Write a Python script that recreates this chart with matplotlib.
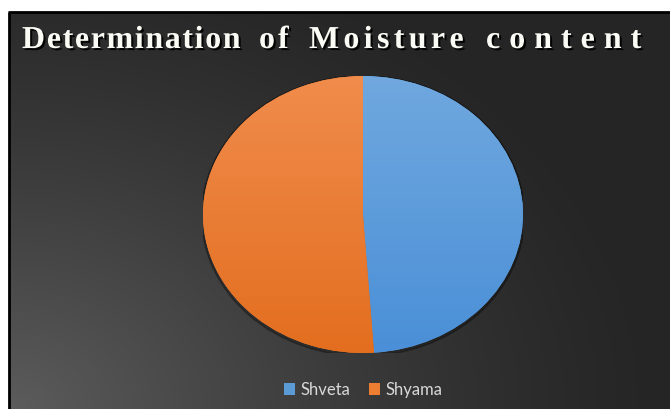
import numpy as np
import matplotlib
matplotlib.use("Agg")
import matplotlib.pyplot as plt
from matplotlib import patheffects as pe
from matplotlib.patches import Patch, Ellipse

# Data
labels = ["Shveta", "Shyama"]
moisture = [48.9, 51.1]
colors = ["#5B9BD5", "#ED7D31"]
top_colors = ["#70A8DF", "#F08C4C"]
bottom_colors = ["#4A8FD7", "#E36E1F"]
title_words = ["Determination", "of", "Moisture", "content"]

W, H = 670, 409
fig = plt.figure(figsize=(W / 100, H / 100), dpi=100)
fig.patch.set_facecolor("white")

# Background panel with a soft glow in the lower-left corner
bg = fig.add_axes([0, 0, 1, 1])
bg.set_xlim(0, W)
bg.set_ylim(H, 0)
bg.axis("off")
x0, y0 = 9, 12
yy, xx = np.mgrid[y0:H, x0:W].astype(float)
d = np.hypot((xx - x0) * 0.85, (yy - H) * 1.15)
t = np.clip(1 - d / 560.0, 0, 1) ** 1.3
dark, light = 37, 92
v = (dark + (light - dark) * t) / 255.0
bg.imshow(np.dstack([v, v, v]), extent=(x0, W, H, y0), aspect="auto",
          interpolation="bilinear", zorder=0)
bg.plot([x0, x0], [H, y0], color="black", lw=2.0, solid_capstyle="butt", zorder=2)
bg.plot([x0 - 1, W], [y0, y0], color="black", lw=2.0, solid_capstyle="butt", zorder=2)

# Title, drawn letter by letter to get the wide tracking
renderer = fig.canvas.get_renderer()
word_x = [22, 259, 309, 486]
tracking = [1.6, 3.0, 4.3, 9.0]
shadow = [pe.withSimplePatchShadow(offset=(1.5, -1.5), shadow_rgbFace="black", alpha=0.9)]
for word, wx, tr in zip(title_words, word_x, tracking):
    x = wx
    for ch in word:
        txt = bg.text(x, 48, ch, fontsize=23, fontweight="bold",
                      family="Liberation Serif", color="#FBFBF5",
                      ha="left", va="baseline", zorder=3, path_effects=shadow)
        w = txt.get_window_extent(renderer).width
        x += w + tr

# Pie, stretched into an ellipse
ax = fig.add_axes([203 / W, (H - 353) / H, 320 / W, 277 / H])
ax.add_patch(Ellipse((0.0, -0.01), 2.02, 2.025, color="black", alpha=0.28, zorder=0))
wedges, _ = ax.pie(moisture, colors=colors, startangle=90, counterclock=False,
                   radius=1, wedgeprops=dict(linewidth=0))
grad = np.linspace(0, 1, 256)[:, None]
for wdg, ct, cb in zip(wedges, top_colors, bottom_colors):
    c1 = np.array(matplotlib.colors.to_rgb(ct))
    c2 = np.array(matplotlib.colors.to_rgb(cb))
    img = c1[None, None, :] * (1 - grad[:, :, None]) + c2[None, None, :] * grad[:, :, None]
    im = ax.imshow(np.repeat(img, 2, axis=1), extent=(-1, 1, -1, 1), aspect="auto",
                   zorder=wdg.get_zorder() + 0.1, interpolation="bilinear")
    im.set_clip_path(wdg)
ax.set_aspect("auto")
ax.set_xlim(-1, 1)
ax.set_ylim(-1, 1)
ax.axis("off")

# Legend
handles = [Patch(facecolor=c, edgecolor="none", label=l) for c, l in zip(colors, labels)]
leg = fig.legend(handles=handles, loc="center", bbox_to_anchor=(363 / W, (H - 390) / H),
                 ncol=2, frameon=False, handlelength=0.7, handleheight=0.7,
                 handletextpad=0.3, columnspacing=1.1, labelcolor="#D9D9D9",
                 prop={"family": "Lato", "size": 12})

fig.savefig("out.png", dpi=100, facecolor=fig.get_facecolor())
